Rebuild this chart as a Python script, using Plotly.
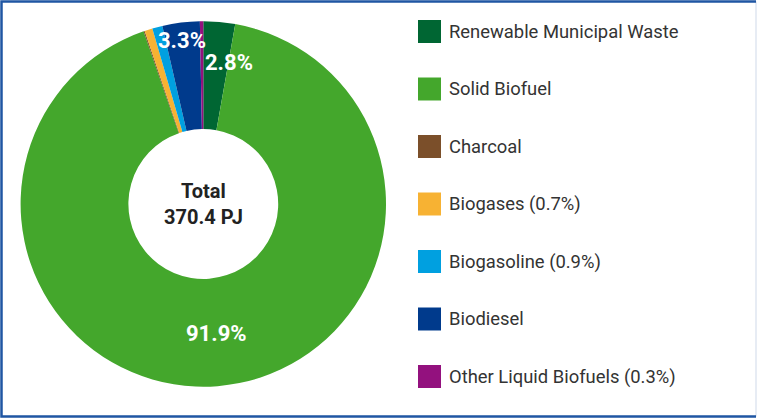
import plotly.graph_objects as go

categories = ["Renewable Municipal Waste", "Solid Biofuel", "Charcoal", "Biogases",
              "Biogasoline", "Biodiesel", "Other Liquid Biofuels"]
shares = [2.8, 91.9, 0.1, 0.7, 0.9, 3.3, 0.3]
legend_labels = ["Renewable Municipal Waste", "Solid Biofuel", "Charcoal", "Biogases (0.7%)",
                 "Biogasoline (0.9%)", "Biodiesel", "Other Liquid Biofuels (0.3%)"]
colors = ["#006633", "#44a72c", "#7b4f2a", "#f7b233", "#00a0e0", "#003a8c", "#93117e"]
total_text = "Total<br>370.4 PJ"

W, H = 757, 418
cx, cy, R = 203.3, 204.0, 182.7
FONT = "Roboto, Liberation Sans, sans-serif"
LEG_X0 = 429.5
LEG_W = W - LEG_X0

fig = go.Figure()
fig.add_trace(go.Pie(
    labels=categories, values=shares, sort=False, direction="clockwise", rotation=0,
    hole=0.41, marker=dict(colors=colors, line=dict(width=0)),
    textinfo="none", hoverinfo="label+percent", showlegend=False,
    domain=dict(x=[(cx - R) / W, (cx + R) / W], y=[(H - cy - R) / H, (H - cy + R) / H]),
))

# legend drawn as scatter traces on hidden axes
idx = list(range(len(categories)))
fig.add_trace(go.Scatter(
    x=[0] * len(idx), y=idx, mode="markers",
    marker=dict(symbol="square", size=23, color=colors, line=dict(width=0)),
    hoverinfo="skip", showlegend=False, cliponaxis=False,
))
fig.add_trace(go.Scatter(
    x=[19.5 / LEG_W] * len(idx), y=[i + 0.03 for i in idx], mode="text",
    text=legend_labels, textposition="middle right",
    textfont=dict(family=FONT, size=18.4, color="#333333"),
    hoverinfo="skip", showlegend=False, cliponaxis=False,
))

fig.update_layout(
    width=W, height=H, margin=dict(l=0, r=0, t=0, b=0),
    paper_bgcolor="white", plot_bgcolor="rgba(0,0,0,0)",
    xaxis=dict(domain=[LEG_X0 / W, 1], range=[0, 1], visible=False, fixedrange=True),
    yaxis=dict(domain=[0, 1], range=[6.7218, -0.5478], visible=False, fixedrange=True),
    font=dict(family=FONT),
)

lab_font = dict(family=FONT, size=22, color="white")
label_pos = {0: (229, 62), 1: (216, 333), 5: (182, 40)}
for i, (px, py) in label_pos.items():
    fig.add_annotation(x=px / W, y=1 - py / H, xref="paper", yref="paper",
                       xanchor="center", yanchor="middle",
                       text=f"<b>{shares[i]}%</b>", showarrow=False, font=lab_font)

fig.add_annotation(x=cx / W, y=1 - cy / H, xref="paper", yref="paper", text=f"<b>{total_text}</b>",
                   xanchor="center", yanchor="middle",
                   showarrow=False, font=dict(family=FONT, size=20, color="#222222"))

# frame: dark on left/top/bottom, faint on the right
bx0, bx1, by0, by1 = 1.5 / W, 1 - 1 / W, 1.5 / H, 1 - 1.5 / H
fig.add_shape(type="line", xref="paper", yref="paper", x0=bx1, x1=bx1, y0=by0, y1=by1,
              line=dict(color="#dfe6f0", width=1.5))
fig.add_shape(type="path", xref="paper", yref="paper",
              path=f"M {bx1},{by1} L {bx0},{by1} L {bx0},{by0} L {bx1},{by0}",
              line=dict(color="#1f56a3", width=2.5))

fig.write_html("out.html", config={"displayModeBar": False},
               post_script="document.body.style.margin='0';document.body.style.overflow='hidden';")
